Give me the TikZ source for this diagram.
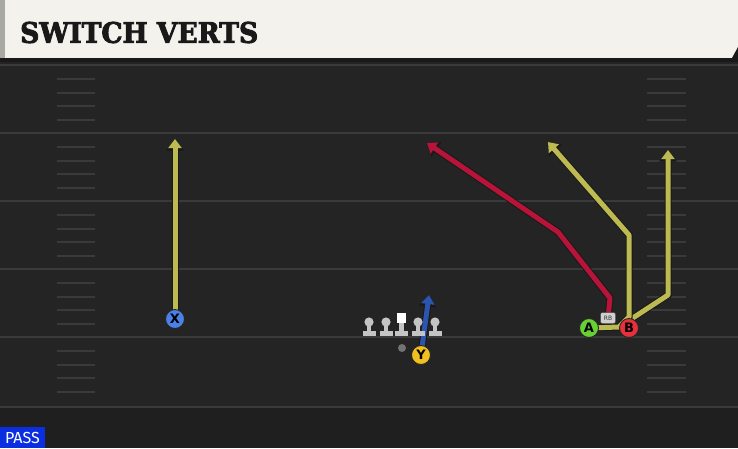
\documentclass[tikz,border=0pt]{standalone}
\usepackage{fontspec}
\usepackage{graphicx}
\usetikzlibrary{arrows.meta}

\newfontfamily\titlefont[BoldFeatures={FakeBold=3}]{DejaVu Serif}
\newfontfamily\labelfont{DejaVu Sans}
\newfontfamily\tagfont{Fira Sans}

\definecolor{fieldbg}{HTML}{242424}
\definecolor{fieldlow}{HTML}{1F1F1F}
\definecolor{yardline}{HTML}{3A3A3A}
\definecolor{headerbg}{HTML}{F4F2EC}
\definecolor{headerstrip}{HTML}{A9A9A4}
\definecolor{routeyel}{HTML}{BDBA52}
\definecolor{routered}{HTML}{B8143A}
\definecolor{routeblue}{HTML}{2C55B0}
\definecolor{xblue}{HTML}{4A80E8}
\definecolor{yyellow}{HTML}{F0C020}
\definecolor{agreen}{HTML}{66D035}
\definecolor{bred}{HTML}{E8303C}
\definecolor{lineman}{HTML}{C4C4C4}
\definecolor{passblue}{HTML}{0A2EE0}

\pgfdeclarelayer{field}
\pgfdeclarelayer{routes}
\pgfsetlayers{field,routes,main}

\begin{document}
\begin{tikzpicture}[x=1pt, y=-1pt,
    player/.style={circle, draw=black!85, line width=0.9pt, fill=#1, minimum size=19pt,
      inner sep=0pt, font=\labelfont\bfseries\fontsize{13}{13}\selectfont},
    route/.style={draw=#1, line width=5pt, line join=round,
      -{Triangle[width=13pt, length=9pt]},
      preaction={draw=black!90, line width=7pt, -{Triangle[width=17pt, length=11.5pt]}}},
    yard/.style={draw=yardline, line width=1.6pt},
    hash/.style={draw=yardline, line width=1.4pt}]
  \useasboundingbox (0,0) rectangle (738,448);

  % field
  \begin{pgfonlayer}{field}
    \fill[fieldbg] (0,62) rectangle (738,448);
    \fill[fieldlow] (0,407) rectangle (738,448);
    \foreach \y in {65,133,201,269,337,407}
      \draw[yard] (0,\y) -- (738,\y);
    \foreach \y in {65,133,201,269,337}
      \foreach \d in {14,28,41,55} {
        \draw[hash] (57,\y+\d) -- (95,\y+\d);
        \draw[hash] (647,\y+\d) -- (686,\y+\d);
      }
  \end{pgfonlayer}

  % header
  \fill[headerbg] (0,0) rectangle (738,58);
  \fill[headerstrip] (0,0) rectangle (5,58);
  \fill[black!90] (0,58) rectangle (738,62);
  \fill[black!90] (738,47) -- (738,58) -- (732,58) -- cycle;
  \node[anchor=west, inner sep=0pt, text=black!90] (title) at (20,32.5)
    {\resizebox{238pt}{21pt}{\titlefont\bfseries SWITCH VERTS}};

  % players
  \node[player=xblue] (X) at (175,319) {X};
  \node[player=yyellow] (Y) at (421,355) {Y};
  \node[player=agreen] (A) at (589,328) {A};
  \node[player=bred] (B) at (629,328) {B};
  \node[fill=lineman!80, draw=black!70, line width=0.5pt, rounded corners=2pt,
    minimum width=15pt, minimum height=11pt, inner sep=0pt,
    font=\labelfont\fontsize{6}{6}\selectfont, text=black!80] (RB) at (608,318) {RB};
  \node[circle, fill=black!55, minimum size=8pt, inner sep=0pt] (QB) at (402,348) {};

  % route points
  \coordinate (xtip) at (175,139);
  \coordinate (ytip) at (429,295);
  \coordinate (r1) at (610,298);
  \coordinate (r2) at (558,232);
  \coordinate (rtip) at (427,143);
  \coordinate (a1) at (619,327);
  \coordinate (a2) at (629,317);
  \coordinate (a3) at (629,235);
  \coordinate (atip) at (548,142);
  \coordinate (b1) at (668,295);
  \coordinate (btip) at (668,150);

  % routes
  \begin{pgfonlayer}{routes}
    \draw[route=routeyel] (X.center) -- (xtip);
    \draw[route=routered] (RB.center) -- (r1) -- (r2) -- (rtip);
    \draw[route=routeyel] (a1) -- (b1) -- (btip);
    \draw[route=routeyel] (A.center) -- (a1) -- (a2) -- (a3) -- (atip);
    \draw[route=routeblue] (Y.center) -- (ytip);
  \end{pgfonlayer}

  % line
  \foreach \x in {369,386,418,435} {
    \fill[lineman] (\x,322) circle (4.6);
    \fill[lineman] (\x-2.2,325) rectangle (\x+2.2,331);
    \fill[lineman] (\x-6.5,331) rectangle (\x+6.5,335.5);
  }
  \fill[white] (397,313) rectangle (406,323);
  \fill[lineman] (399.3,323) rectangle (403.7,331);
  \fill[lineman] (395,331) rectangle (408,335.5);

  \node[fill=passblue, text=white, minimum width=45pt, minimum height=21pt, inner sep=0pt,
    font=\tagfont\fontsize{16}{16}\selectfont] (pass) at (22.5,437.5) {PASS};
\end{tikzpicture}
\end{document}
